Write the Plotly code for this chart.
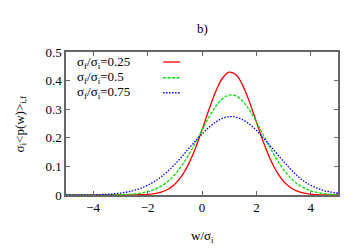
import plotly.graph_objects as go

# x grid (w / sigma_i)
x_vals = [-5.0, -4.75, -4.5, -4.25, -4.0, -3.75, -3.5, -3.25, -3.0, -2.75, -2.5, -2.25,
          -2.0, -1.75, -1.5, -1.25, -1.0, -0.75, -0.5, -0.25, 0.0, 0.25, 0.5, 0.75,
          1.0, 1.25, 1.5, 1.75, 2.0, 2.25, 2.5, 2.75, 3.0, 3.25, 3.5, 3.75, 4.0, 4.25,
          4.5, 4.75, 5.0]

# sigma_f/sigma_i = 0.25
red_vals = [0.0, 0.0, 0.0, 0.0, 0.0, 0.0, 0.0, 0.0, 0.0001, 0.0002, 0.0003, 0.0008,
            0.0020, 0.0046, 0.0100, 0.0202, 0.0379, 0.0661, 0.1072, 0.1619, 0.2274, 0.2970, 0.3610, 0.4082,
            0.4294, 0.4202, 0.3825, 0.3239, 0.2552, 0.1871, 0.1275, 0.0809, 0.0477, 0.0262, 0.0134, 0.0064, 0.0028, 0.0012,
            0.0004, 0.0002, 0.0001]

# sigma_f/sigma_i = 0.5
green_vals = [0.0, 0.0, 0.0, 0.0, 0.0, 0.0001, 0.0002, 0.0004, 0.0009, 0.0018, 0.0035, 0.0066,
              0.0120, 0.0195, 0.0310, 0.0480, 0.0715, 0.1020, 0.1390, 0.1815, 0.2269, 0.2709, 0.3089, 0.3361,
              0.3492, 0.3463, 0.3278, 0.2962, 0.2555, 0.2105, 0.1654, 0.1241, 0.0889, 0.0608, 0.0397, 0.0248, 0.0147, 0.0084,
              0.0045, 0.0023, 0.0012]

# sigma_f/sigma_i = 0.75
blue_vals = [0.0001, 0.0001, 0.0002, 0.0004, 0.0008, 0.0014, 0.0025, 0.0042, 0.0068, 0.0105, 0.0160, 0.0235,
             0.0340, 0.0470, 0.0640, 0.0840, 0.1070, 0.1330, 0.1610, 0.1880, 0.2130, 0.2360, 0.2550, 0.2680,
             0.2740, 0.2722, 0.2632, 0.2473, 0.2259, 0.2005, 0.1729, 0.1450, 0.1170, 0.0910, 0.0670, 0.0480, 0.0340, 0.0230,
             0.0150, 0.0100, 0.0060]

series_names = ["σ<sub>f</sub>/σ<sub>i</sub>=0.25",
                "σ<sub>f</sub>/σ<sub>i</sub>=0.5",
                "σ<sub>f</sub>/σ<sub>i</sub>=0.75"]
x_ticks = [-4, -2, 0, 2, 4]
y_ticks = [0, 0.1, 0.2, 0.3, 0.4, 0.5]
y_tick_text = ["0", "0.1", "0.2", "0.3", "0.4", "0.5"]

colors = ["#ff0000", "#00e000", "#0000ff"]
dashes = ["solid", "3px,1.5px", "1.5px,1.5px"]
FONT = "Liberation Serif"

fig = go.Figure()
for ys, name, c, d in zip([red_vals, green_vals, blue_vals], series_names, colors, dashes):
    fig.add_trace(go.Scatter(x=x_vals, y=ys, mode="lines", name=name,
                             line=dict(color=c, width=1.3, dash=d, shape="spline"),
                             showlegend=False))

axis_common = dict(showline=True, linecolor="#666666", linewidth=1.5, mirror="ticks",
                   ticks="inside", ticklen=4, tickcolor="#666666", tickwidth=1,
                   showgrid=False, zeroline=False,
                   tickfont=dict(family=FONT, size=13, color="#000"))

fig.update_xaxes(range=[-5, 5], tickvals=x_ticks, **axis_common)
fig.update_yaxes(range=[0, 0.5], tickvals=y_ticks, ticktext=y_tick_text, **axis_common)

annotations = []
shapes = []
# legend (gnuplot style: text left, sample right)
leg_y = [0.93, 0.82, 0.715]
for i, (name, c, d) in enumerate(zip(series_names, colors, dashes)):
    annotations.append(dict(x=0.032, y=leg_y[i], xref="paper", yref="paper", text=name,
                            showarrow=False, xanchor="left", yanchor="middle",
                            font=dict(family=FONT, size=13, color="#000")))
    shapes.append(dict(type="line", xref="paper", yref="paper",
                       x0=0.357, x1=0.42, y0=leg_y[i], y1=leg_y[i],
                       line=dict(color=c, width=1.3, dash=d)))

annotations += [
    dict(text="b)", x=0.5, y=1.0, xref="paper", yref="paper", yshift=14,
         showarrow=False, xanchor="center", yanchor="bottom",
         font=dict(family=FONT, size=13, color="#000")),
    dict(text="w/σ<sub>i</sub>", x=0.5, y=0, xref="paper", yref="paper", yshift=-31,
         showarrow=False, xanchor="center", yanchor="top",
         font=dict(family=FONT, size=13, color="#000")),
    dict(text="σ<sub>i</sub>&lt;p(w)&gt;<sub>i,f</sub>", x=0, y=0.5, xref="paper", yref="paper",
         xshift=-46, textangle=-90, showarrow=False, xanchor="center", yanchor="middle",
         font=dict(family=FONT, size=13, color="#000")),
]

fig.update_layout(
    width=356, height=249,
    margin=dict(l=58, r=26, t=44, b=62),
    paper_bgcolor="white", plot_bgcolor="white",
    font=dict(family=FONT, size=13, color="#000"),
    annotations=annotations,
    shapes=shapes,
)

fig.write_html("out.html")
